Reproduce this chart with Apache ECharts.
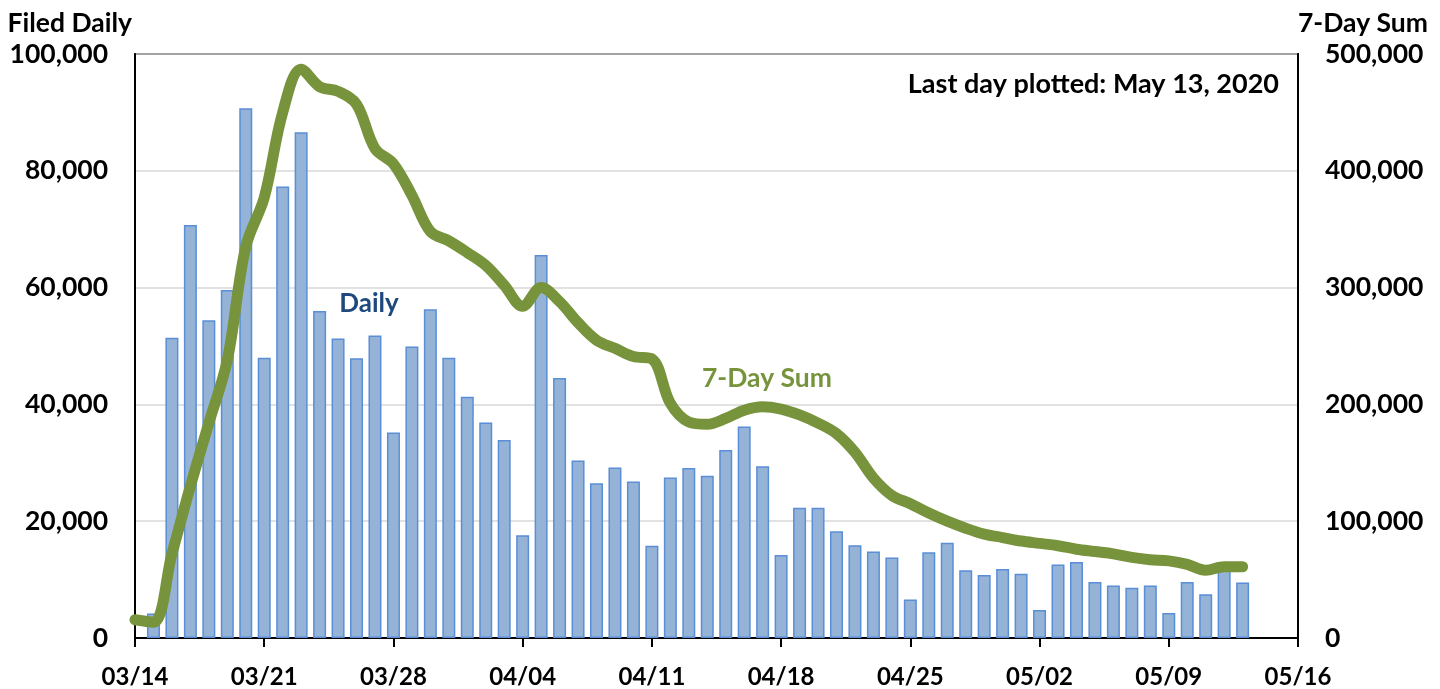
<!DOCTYPE html>
<html>
<head>
<meta charset="utf-8">
<script src="https://cdn.jsdelivr.net/npm/echarts@6/dist/echarts.min.js"></script>
<style>
  html, body { margin: 0; padding: 0; background: #fff; }
  #chart { width: 1440px; height: 689px; }
</style>
</head>
<body>
<div id="chart"></div>
<script>
// Category labels (one per day, 03/14 .. 05/16)
const dates = [
  '03/14','03/15','03/16','03/17','03/18','03/19','03/20','03/21','03/22','03/23','03/24','03/25','03/26','03/27',
  '03/28','03/29','03/30','03/31','04/01','04/02','04/03','04/04','04/05','04/06','04/07','04/08','04/09','04/10',
  '04/11','04/12','04/13','04/14','04/15','04/16','04/17','04/18','04/19','04/20','04/21','04/22','04/23','04/24',
  '04/25','04/26','04/27','04/28','04/29','04/30','05/01','05/02','05/03','05/04','05/05','05/06','05/07','05/08',
  '05/09','05/10','05/11','05/12','05/13','05/14','05/15','05/16'
];

// Claims filed daily (left axis)
const daily = [
  null, 4200, 51400, 70700, 54400, 59600, 90700, 48000, 77300, 86600, 56000, 51300, 47900, 51800,
  35200, 49900, 56300, 48000, 41300, 36900, 33900, 17600, 65600, 44500, 30400, 26500, 29200, 26800,
  15800, 27500, 29100, 27800, 32200, 36200, 29400, 14200, 22300, 22300, 18300, 15900, 14800, 13800,
  6600, 14700, 16300, 11600, 10800, 11800, 11000, 4800, 12600, 13000, 9600, 9000, 8600, 9000,
  4300, 9600, 7500, 12000, 9500, null, null, null
];

// 7-day sum (right axis)
const sum7 = [
  15600, 13500, 72000, 130000, 184000, 238000, 335000, 377000, 450000, 487000, 472000, 468000, 457000, 419000,
  406000, 379000, 348000, 340000, 330000, 319000, 302000, 284000, 300000, 288000, 270000, 255000, 248000, 241000,
  239000, 201000, 185000, 183000, 188000, 195000, 198000, 196000, 191000, 184000, 175000, 159000, 137000, 122000,
  115000, 107000, 100000, 94000, 89000, 86000, 83000, 81000, 79000, 76000, 74000, 72000, 69000, 67000,
  66000, 63000, 58000, 61000, 61000, null, null, null
];

const FONT = 'Lato';
const fmt = v => Number(v).toLocaleString('en-US');

const chart = echarts.init(document.getElementById('chart'), null, { renderer: 'canvas' });

chart.setOption({
  animation: false,
  backgroundColor: '#ffffff',
  grid: {
    left: 135, right: 142, top: 54, bottom: 51,
    show: true, borderColor: '#000', borderWidth: 2, backgroundColor: 'transparent'
  },
  xAxis: [
    {
      type: 'category',
      data: dates,
      boundaryGap: false,
      position: 'bottom',
      axisLine: { show: true, lineStyle: { color: '#000', width: 2 } },
      axisTick: { show: true, interval: 6, length: 9, lineStyle: { color: '#000', width: 2 } },
      axisLabel: {
        interval: 6, margin: 27, color: '#000',
        fontFamily: FONT, fontWeight: 'bold', fontSize: 24
      },
      splitLine: { show: false }
    },
    {
      type: 'category',
      data: dates,
      boundaryGap: false,
      position: 'bottom',
      offset: 0,
      axisLine: { show: false },
      axisTick: { show: true, inside: true, interval: 6, length: 8, lineStyle: { color: '#000', width: 2 } },
      axisLabel: { show: false },
      splitLine: { show: false }
    }
  ],
  yAxis: [
    {
      type: 'value',
      min: 0, max: 100000, interval: 20000,
      name: 'Filed Daily',
      nameLocation: 'end',
      nameGap: 31,
      nameTextStyle: {
        color: '#000', fontFamily: FONT, fontWeight: 'bold', fontSize: 26.5,
        align: 'right', verticalAlign: 'middle', padding: [0, 3, 0, 0]
      },
      axisLine: { show: true, lineStyle: { color: '#000', width: 2 } },
      axisTick: { show: false },
      axisLabel: {
        margin: 27, color: '#000', fontFamily: FONT, fontWeight: 'bold', fontSize: 26.5,
        formatter: fmt
      },
      splitLine: { show: true, lineStyle: { color: '#d9d9d9', width: 1.5 } }
    },
    {
      type: 'value',
      min: 0, max: 500000, interval: 100000,
      name: '7-Day Sum',
      nameLocation: 'end',
      nameGap: 31,
      nameTextStyle: {
        color: '#000', fontFamily: FONT, fontWeight: 'bold', fontSize: 26.5,
        align: 'left', verticalAlign: 'middle'
      },
      position: 'right',
      axisLine: { show: true, lineStyle: { color: '#000', width: 2 } },
      axisTick: { show: false },
      axisLabel: {
        margin: 27, color: '#000', fontFamily: FONT, fontWeight: 'bold', fontSize: 26.5,
        formatter: fmt
      },
      splitLine: { show: false }
    }
  ],
  series: [
    {
      name: 'Daily',
      type: 'bar',
      xAxisIndex: 0,
      yAxisIndex: 0,
      data: daily,
      barWidth: 13,
      itemStyle: { color: '#95b3d7', borderColor: '#5a8ed6', borderWidth: 1.5 },
      z: 2
    },
    {
      name: '7-Day Sum',
      type: 'line',
      xAxisIndex: 0,
      yAxisIndex: 1,
      data: sum7,
      smooth: 0.35,
      showSymbol: false,
      symbol: 'none',
      lineStyle: { color: '#77933c', width: 11, cap: 'round', join: 'round' },
      z: 3
    }
  ],
  graphic: [
    {
      type: 'text', x: 1279, y: 84,
      style: {
        text: 'Last day plotted: May 13, 2020',
        fill: '#000', font: 'bold 27px Lato', textAlign: 'right', textVerticalAlign: 'middle'
      },
      z: 10
    },
    {
      type: 'text', x: 369, y: 304,
      style: {
        text: 'Daily',
        fill: '#1f497d', font: 'bold 26px Lato', textAlign: 'center', textVerticalAlign: 'middle'
      },
      z: 10
    },
    {
      type: 'text', x: 767, y: 378,
      style: {
        text: '7-Day Sum',
        fill: '#77933c', font: 'bold 26.5px Lato', textAlign: 'center', textVerticalAlign: 'middle'
      },
      z: 10
    }
  ]
});
</script>
</body>
</html>
